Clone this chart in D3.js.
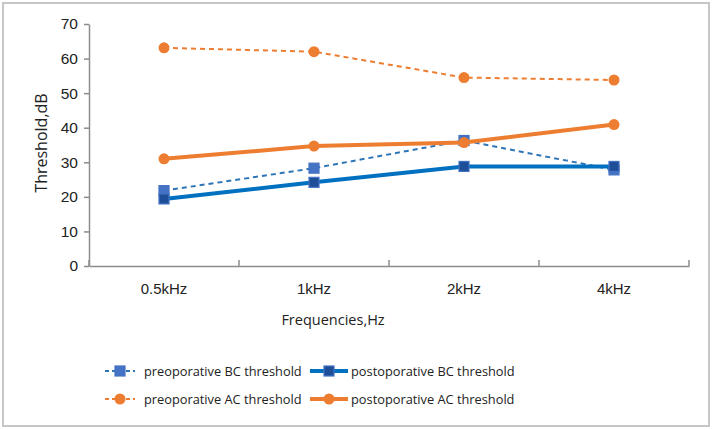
<!DOCTYPE html>
<html>
<head>
<meta charset="utf-8">
<script src="https://cdn.jsdelivr.net/npm/d3@7"></script>
<style>
  body { margin: 0; background: #fff; }
  svg { display: block; font-family: "Open Sans", "Noto Sans", sans-serif; }
</style>
</head>
<body>
<svg id="svg01" width="714" height="430"></svg>
<script>
// data
const freqs = ["0.5kHz", "1kHz", "2kHz", "4kHz"]
const preBC = [21.8, 28.3, 36.3, 27.8]
const postBC = [19.4, 24.2, 28.8, 28.8]
const preAC = [63.1, 62.0, 54.5, 53.8]
const postAC = [31.0, 34.7, 35.7, 40.9]
const yTicks = [0, 10, 20, 30, 40, 50, 60, 70]

const series = [
    {name: "preoporative BC threshold", values: preBC, color: "#2E75B6", fill: "#4472C4", stroke: "#4472C4", dash: "5,4", width: 2, shape: "square"},
    {name: "postoporative BC threshold", values: postBC, color: "#0070C0", fill: "#1F4E99", stroke: "#4472C4", dash: null, width: 4, shape: "square"},
    {name: "preoporative AC threshold", values: preAC, color: "#ED7D31", fill: "#ED7D31", stroke: "#ED7D31", dash: "5,4", width: 2, shape: "circle"},
    {name: "postoporative AC threshold", values: postAC, color: "#ED7D31", fill: "#ED7D31", stroke: "#ED7D31", dash: null, width: 4, shape: "circle"}
]

const width = 714, height = 430
const margin = {top: 24, right: 25, bottom: 164, left: 89}

const svg = d3.select("#svg01")

// outer frame
svg.append("rect")
    .attr("x", 3).attr("y", 3)
    .attr("width", 706).attr("height", 423)
    .attr("fill", "#fff")
    .attr("stroke", "#c6c6c6")
    .attr("stroke-width", 2)

const x = d3.scaleBand()
    .domain(freqs)
    .range([margin.left, width - margin.right])

const y = d3.scaleLinear()
    .domain([0, 70])
    .range([height - margin.bottom, margin.top])

const axisColor = "#8c8c8c"

// x axis
const gx = svg.append("g")
    .attr("transform", `translate(0,${y(0)})`)
    .call(d3.axisBottom(x).tickSize(0).tickSizeOuter(0).tickPadding(17))
gx.select(".domain").attr("stroke", axisColor).attr("stroke-width", 1.5)
gx.selectAll(".tick text").attr("font-size", 15).attr("fill", "#222")
// boundary ticks between categories, pointing up
const edges = freqs.map(d => x(d)).concat([x(freqs[freqs.length - 1]) + x.bandwidth()])
svg.append("g").selectAll("line")
    .data(edges)
    .join("line")
    .attr("x1", d => d).attr("x2", d => d)
    .attr("y1", y(0)).attr("y2", y(0) - 6)
    .attr("stroke", axisColor).attr("stroke-width", 1.5)

// y axis
const gy = svg.append("g")
    .attr("transform", `translate(${margin.left},0)`)
    .call(d3.axisLeft(y).tickValues(yTicks).tickSize(5).tickSizeOuter(0).tickPadding(6))
gy.select(".domain").attr("stroke", axisColor).attr("stroke-width", 1.5)
gy.selectAll(".tick line").attr("stroke", axisColor).attr("stroke-width", 1.5)
gy.selectAll(".tick text").attr("font-size", 15.5).attr("fill", "#222")

// axis titles
svg.append("text")
    .attr("x", 333).attr("y", 325)
    .attr("text-anchor", "middle")
    .attr("font-size", 14.5)
    .attr("fill", "#222")
    .text("Frequencies,Hz")

svg.append("text")
    .attr("transform", `translate(47,143) rotate(-90)`)
    .attr("text-anchor", "middle")
    .attr("font-size", 16)
    .attr("fill", "#222")
    .text("Threshold,dB")

const cx = d => x(d) + x.bandwidth() / 2

const line = d3.line()
    .x((d, i) => cx(freqs[i]))
    .y(d => y(d))

function drawMarker(sel, s, px, py) {
    if (s.shape === "square") {
        sel.append("rect")
            .attr("x", px - 5).attr("y", py - 5)
            .attr("width", 10).attr("height", 10)
            .attr("fill", s.fill)
            .attr("stroke", s.stroke)
            .attr("stroke-width", 1.2)
    } else {
        sel.append("circle")
            .attr("cx", px).attr("cy", py)
            .attr("r", 5.5)
            .attr("fill", s.fill)
    }
}

const plot = svg.append("g")
series.forEach(s => {
    plot.append("path")
        .attr("d", line(s.values))
        .attr("fill", "none")
        .attr("stroke", s.color)
        .attr("stroke-width", s.width)
        .attr("stroke-dasharray", s.dash)
    const mg = plot.append("g")
    s.values.forEach((v, i) => drawMarker(mg, s, cx(freqs[i]), y(v)))
})

// legend
const legendPos = [[105, 371], [310, 371], [105, 399], [310, 399]]
series.forEach((s, i) => {
    const [lx, ly] = legendPos[i]
    const g = svg.append("g")
    const len = s.dash ? 30 : 38
    g.append("line")
        .attr("x1", lx).attr("x2", lx + len)
        .attr("y1", ly).attr("y2", ly)
        .attr("stroke", s.color)
        .attr("stroke-width", s.width)
        .attr("stroke-dasharray", s.dash ? "4,3" : null)
    drawMarker(g, s, lx + len / 2, ly)
    g.append("text")
        .attr("x", lx + len + (s.dash ? 9 : 3))
        .attr("y", ly + 5)
        .attr("font-size", 12.8)
        .attr("fill", "#222")
        .text(s.name)
})
</script>
</body>
</html>
